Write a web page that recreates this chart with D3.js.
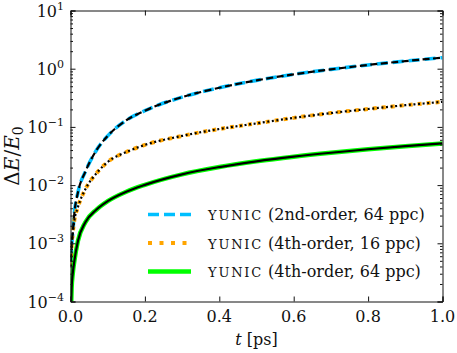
<!DOCTYPE html>
<html lang="en">
	<head>
		<meta charset="utf-8">
		<title>Energy error vs time</title>
		<script src="https://cdn.jsdelivr.net/npm/d3@7"></script>
		<style type="text/css">
			body { margin: 0; background: white; }
			text { font-family: "DejaVu Serif", serif; fill: #111; }
			.axis path, .axis line { stroke: #111; stroke-width: 1; }
		</style>
	</head>
	<body>
		<script type="text/javascript">

			var w = 457;
			var h = 353;
			var margin = {top: 10.5, right: 14.5, bottom: 51.5, left: 70.5};

			// time in ps
			var times = [0.001, 0.003, 0.006, 0.01, 0.02, 0.04, 0.07, 0.1, 0.15, 0.2,
						 0.3, 0.4, 0.5, 0.6, 0.7, 0.8, 0.9, 1.0];
			// relative energy error
			var second64 = [0.0005, 0.0009, 0.0015, 0.0031, 0.0075, 0.017, 0.040, 0.070, 0.13, 0.19,
							0.325, 0.47, 0.63, 0.80, 0.975, 1.16, 1.35, 1.55];
			var fourth16 = [0.0004, 0.0009, 0.0015, 0.0024, 0.0042, 0.0085, 0.016, 0.025, 0.037, 0.049,
							0.07, 0.092, 0.115, 0.143, 0.173, 0.203, 0.236, 0.27];
			var fourth64 = [0.00006, 0.00017, 0.0003, 0.00048, 0.0011, 0.0023, 0.0038, 0.0053, 0.0077, 0.0101,
							0.0153, 0.0204, 0.0256, 0.0308, 0.036, 0.0413, 0.0466, 0.052];

			var xTicks = [0, 0.2, 0.4, 0.6, 0.8, 1.0];
			var yExps = [-4, -3, -2, -1, 0, 1];
			var legendLabels = ["(2nd-order, 64 ppc)", "(4th-order, 16 ppc)", "(4th-order, 64 ppc)"];

			var x = d3.scaleLinear().domain([0, 1]).range([margin.left, w - margin.right]);
			var y = d3.scaleLog().domain([1e-4, 10]).range([h - margin.bottom, margin.top]);

			var svg = d3.select("body").append("svg")
						.attr("width", w)
						.attr("height", h);

			svg.append("clipPath").attr("id", "clip")
				.append("rect")
				.attr("x", margin.left).attr("y", margin.top)
				.attr("width", w - margin.left - margin.right)
				.attr("height", h - margin.top - margin.bottom);

			// minor log ticks
			var minors = [];
			yExps.forEach(function(e) {
				if (e == 1) return;
				for (var k = 2; k < 10; k++) minors.push(k * Math.pow(10, e));
			});
			var majors = yExps.map(function(e) { return Math.pow(10, e); });

			var series = [
				{vals: second64, color: "#00bfff", width: 3.6, dash: "11,5", black: "7,3.5"},
				{vals: fourth16, color: "#ffa500", width: 4, dash: "4,5", black: "2,2.6"},
				{vals: fourth64, color: "#00ff00", width: 4.5, dash: null, black: null}
			];

			var line = d3.line()
				.x(function(d, i) { return x(times[i]); })
				.y(function(d) { return y(d); })
				.curve(d3.curveMonotoneX);

			var plot = svg.append("g").attr("clip-path", "url(#clip)");

			plot.selectAll("path.col")
				.data(series)
				.enter()
				.append("path")
				.attr("class", "col")
				.attr("d", function(d) { return line(d.vals); })
				.attr("fill", "none")
				.attr("stroke", function(d) { return d.color; })
				.attr("stroke-width", function(d) { return d.width; })
				.attr("stroke-dasharray", function(d) { return d.dash; });

			// black reference curves on top
			plot.selectAll("path.ref")
				.data(series)
				.enter()
				.append("path")
				.attr("class", "ref")
				.attr("d", function(d) { return line(d.vals); })
				.attr("fill", "none")
				.attr("stroke", "black")
				.attr("stroke-width", 2.2)
				.attr("stroke-dasharray", function(d) { return d.black; });

			// axes, ticks pointing inward on all four sides
			var bottom = h - margin.bottom, right = w - margin.right;

			svg.append("g").attr("class", "axis")
				.attr("transform", "translate(0," + bottom + ")")
				.call(d3.axisBottom(x).tickValues(xTicks).tickSize(-5).tickFormat(""));
			svg.append("g").attr("class", "axis")
				.attr("transform", "translate(0," + margin.top + ")")
				.call(d3.axisTop(x).tickValues(xTicks).tickSize(-5).tickFormat(""));

			[[d3.axisLeft, margin.left], [d3.axisRight, right]].forEach(function(a) {
				svg.append("g").attr("class", "axis")
					.attr("transform", "translate(" + a[1] + ",0)")
					.call(a[0](y).tickValues(majors).tickSize(-5).tickFormat(""));
				svg.append("g").attr("class", "axis")
					.attr("transform", "translate(" + a[1] + ",0)")
					.call(a[0](y).tickValues(minors).tickSize(-2.5).tickFormat(""))
					.select(".domain").remove();
			});

			// x tick labels
			svg.selectAll("text.xt")
				.data(xTicks)
				.enter()
				.append("text")
				.attr("class", "xt")
				.attr("x", function(d) { return x(d); })
				.attr("y", bottom + 20)
				.attr("text-anchor", "middle")
				.style("font-size", "16px")
				.text(function(d) { return d.toFixed(1); });

			// y tick labels 10^n
			var yt = svg.selectAll("text.yt")
				.data(yExps)
				.enter()
				.append("text")
				.attr("class", "yt")
				.attr("x", 64)
				.attr("y", function(d) { return y(Math.pow(10, d)) + 6; })
				.attr("text-anchor", "end")
				.style("font-size", "16px");
			yt.append("tspan").text("10");
			yt.append("tspan")
				.attr("dy", -7)
				.style("font-size", "11px")
				.text(function(d) { return d < 0 ? "\u2212" + (-d) : d; });

			// axis titles
			var xl = svg.append("text")
				.attr("x", (margin.left + right) / 2)
				.attr("y", 345)
				.attr("text-anchor", "middle")
				.style("font-size", "16px");
			xl.append("tspan").style("font-style", "italic").text("t");
			xl.append("tspan").text(" [ps]");

			var yl = svg.append("text")
				.attr("transform", "translate(19," + (margin.top + bottom) / 2 + ") rotate(-90)")
				.attr("text-anchor", "middle")
				.style("font-size", "20px");
			yl.append("tspan").text("\u0394");
			yl.append("tspan").style("font-style", "italic").text("E");
			yl.append("tspan").text("/");
			yl.append("tspan").style("font-style", "italic").text("E");
			yl.append("tspan").attr("dy", 4).style("font-size", "14px").text("0");

			// legend
			var leg = svg.selectAll("g.leg")
				.data(series)
				.enter()
				.append("g")
				.attr("class", "leg")
				.attr("transform", function(d, i) { return "translate(148," + (214.5 + i * 28.5) + ")"; });
			leg.append("line")
				.attr("x1", 0).attr("x2", 43)
				.attr("stroke", function(d) { return d.color; })
				.attr("stroke-width", function(d) { return d.width; })
				.attr("stroke-dasharray", function(d, i) { return i == 1 ? "4,7.5" : d.dash; });
			var lt = leg.append("text")
				.attr("x", 60)
				.attr("y", 5.5)
				.style("font-size", "16px");
			lt.append("tspan")
				.style("font-size", "13px")
				.style("letter-spacing", "1.8px")
				.text("YUNIC");
			lt.append("tspan")
				.text(function(d, i) { return " " + legendLabels[i]; });

		</script>
	</body>
</html>
